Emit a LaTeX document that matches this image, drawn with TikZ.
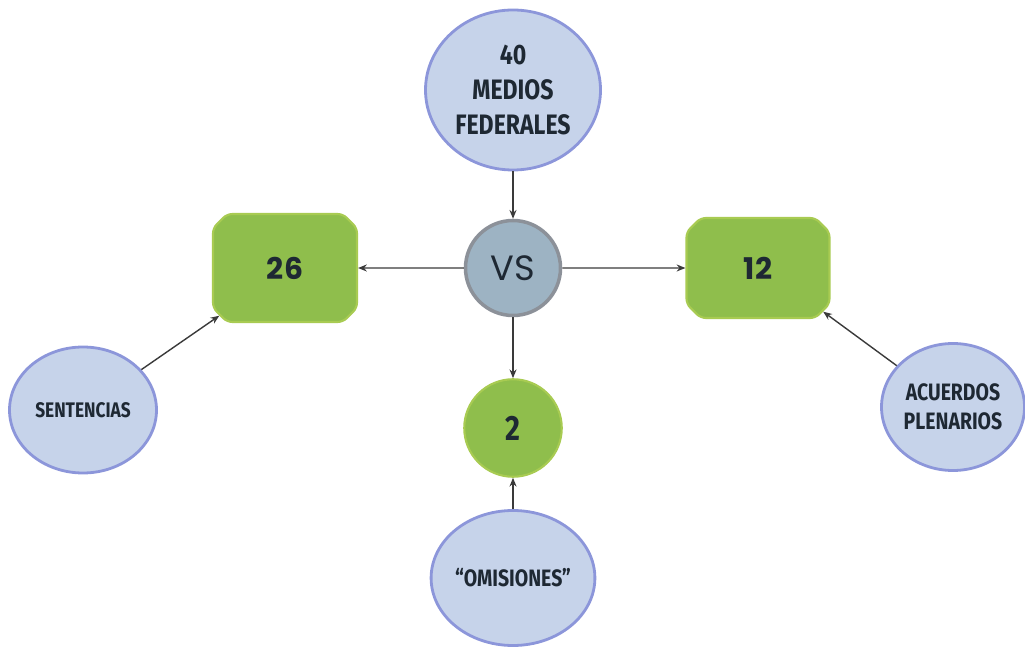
\documentclass[tikz,border=0pt]{standalone}
\usepackage{fontspec}
\setmainfont{Fira Sans}
\newfontfamily\condfont[FakeStretch=0.82]{Fira Sans}
\newfontfamily\roundfont{Poppins}
\usepackage{tikz}
\usetikzlibrary{shapes.geometric, shapes.misc, arrows.meta, positioning}

\definecolor{bubblefill}{HTML}{C6D3EA}
\definecolor{bubbleline}{HTML}{8C96DA}
\definecolor{leaffill}{HTML}{8FBE4C}
\definecolor{leafline}{HTML}{A8CB52}
\definecolor{hubfill}{HTML}{9DB3C3}
\definecolor{hubline}{HTML}{8C9199}
\definecolor{inktext}{HTML}{1E2833}
\definecolor{arrowgray}{HTML}{3A3A3A}

\begin{document}
\begin{tikzpicture}[
    source/.style={ellipse, draw=bubbleline, line width=1.6pt, fill=bubblefill, inner sep=0pt, align=center, text=inktext, font=\condfont\bfseries},
    count/.style={chamfered rectangle, chamfered rectangle xsep=4pt, chamfered rectangle ysep=4pt, rounded corners=3pt, draw=leafline, line width=1.2pt, fill=leaffill, inner sep=0pt, text=inktext, font=\roundfont\fontsize{17}{20}\selectfont\bfseries},
    hub/.style={circle, draw=hubline, line width=2pt, fill=hubfill, inner sep=0pt, minimum size=1.9cm, text=inktext, font=\roundfont\fontsize{20}{22}\selectfont},
    arrow/.style={-{Stealth[length=5pt, width=4pt]}, arrowgray, line width=0.8pt}
]
\useasboundingbox (0,0) rectangle (20.5,12.96);

% Centre
\node[hub] (vs) at (10.26, 7.6) {VS};

% Sources
\node[source, minimum width=3.5cm, minimum height=3.2cm, font=\condfont\bfseries\fontsize{16}{20}\selectfont] (federal) at (10.26, 11.16) {40\\MEDIOS\\FEDERALES};
\node[source, minimum width=2.94cm, minimum height=2.52cm, font=\condfont\bfseries\fontsize{12}{14}\selectfont] (sentencias) at (1.66, 4.76) {SENTENCIAS};
\node[source, minimum width=3.14cm, minimum height=2.7cm, font=\condfont\bfseries\fontsize{13.5}{15}\selectfont] (omisiones) at (10.26, 1.40) {“OMISIONES”};
\node[source, minimum width=2.86cm, minimum height=2.54cm, font=\condfont\bfseries\fontsize{13.5}{16.5}\selectfont] (acuerdos) at (19.06, 4.82) {ACUERDOS\\PLENARIOS};

% Counts
\node[count, minimum width=2.88cm, minimum height=2.16cm] (c26) at (5.70, 7.6) {26};
\node[count, minimum width=2.86cm, minimum height=2.0cm] (c12) at (15.16, 7.6) {12};
\node[circle, draw=leafline, line width=1.2pt, fill=leaffill, minimum width=1.95cm, inner sep=0pt, text=inktext, font=\condfont\bfseries\fontsize{20}{22}\selectfont] (c2) at (10.26, 4.40) {2};

% Hub flows
\draw[arrow] (federal) -- (vs);
\draw[arrow] (vs) -- (c26);
\draw[arrow] (vs) -- (c12);
\draw[arrow] (vs) -- (c2);

% Source flows
\draw[arrow] (sentencias) -- (c26.south west);
\draw[arrow] (omisiones) -- (c2);
\draw[arrow] (acuerdos) -- (c12.south east);

\end{tikzpicture}
\end{document}
